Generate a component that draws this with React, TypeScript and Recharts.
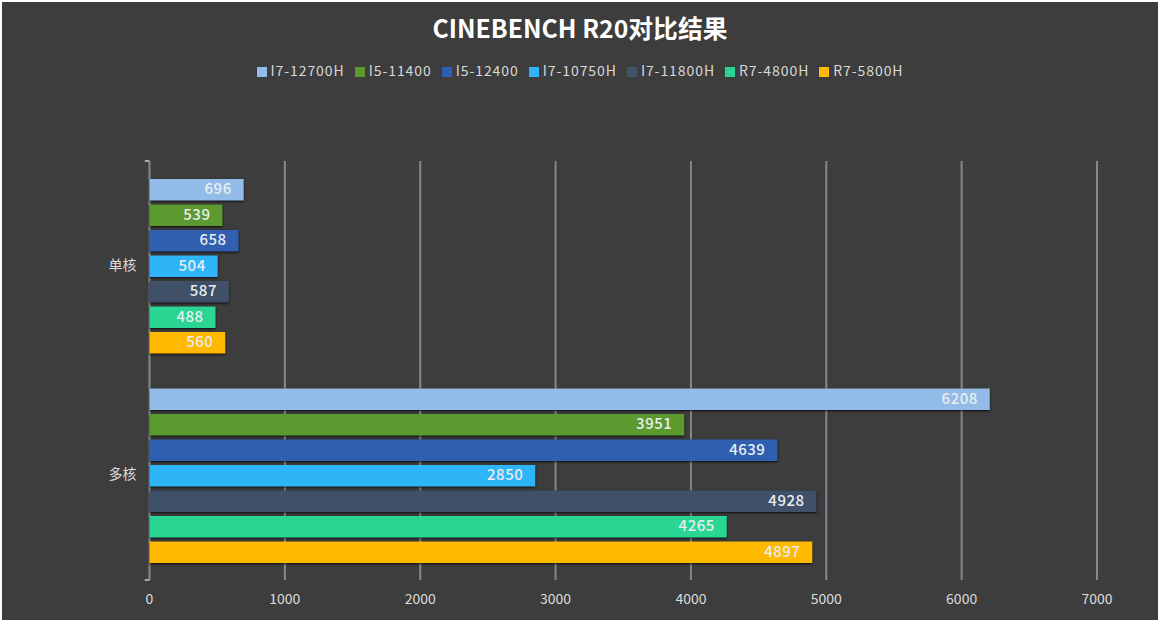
import { BarChart, Bar, XAxis, YAxis, CartesianGrid, Legend, LabelList, ReferenceLine } from "recharts";

const categories = ["单核", "多核"];
const seriesNames = ["I7-12700H", "I5-11400", "I5-12400", "I7-10750H", "I7-11800H", "R7-4800H", "R7-5800H"];
const seriesColors = ["#93bbe8", "#5c9a2f", "#2f5fae", "#2db5f8", "#3f5068", "#2bd695", "#ffb900"];
const singleCore = [696, 539, 658, 504, 587, 488, 560];
const multiCore = [6208, 3951, 4639, 2850, 4928, 4265, 4897];
const xTicks = [0, 1000, 2000, 3000, 4000, 5000, 6000, 7000];
const edgeTicks = [0, 1, 2];

const FONT = '"Noto Sans CJK SC", "Noto Sans", sans-serif';
const AXIS_COLOR = "#a8a8a8";

const data = categories.map((name, i) => {
  const row: Record<string, string | number> = { name };
  seriesNames.forEach((s, j) => {
    row[s] = (i === 0 ? singleCore : multiCore)[j];
  });
  return row;
});

export default function App() {
  return (
    <div style={{ position: "absolute", left: 0, top: 0, width: 1160, height: 632, background: "#fff", fontFamily: FONT }}>
      <div style={{ position: "absolute", left: 2, top: 2, width: 1156, height: 618, background: "#3d3d3d" }} />
      <div
        style={{
          position: "absolute",
          left: 0,
          top: 10,
          width: 1160,
          textAlign: "center",
          color: "#fff",
          fontSize: 24.8,
          fontWeight: 700,
          lineHeight: "34px",
        }}
      >
        CINEBENCH R20对比结果
      </div>
      <div style={{ position: "absolute", left: 0, top: 0 }}>
        <BarChart
          width={1160}
          height={632}
          data={data}
          layout="vertical"
          margin={{ top: 161, right: 63, left: 0, bottom: 22 }}
          barSize={21.5}
          barGap={4}
          barCategoryGap={17}
        >
          <CartesianGrid horizontal={false} vertical stroke="#85878a" strokeWidth={2} syncWithTicks />
          <XAxis
            type="number"
            domain={[0, 7000]}
            ticks={xTicks}
            axisLine={false}
            tickLine={false}
            height={30}
            tick={{ fontSize: 14, fill: "#dcdcdc" }}
            tickMargin={8}
          />
          <YAxis
            yAxisId="edge"
            type="number"
            domain={[0, 2]}
            ticks={edgeTicks}
            reversed
            width={0}
            tick={false}
            tickLine={false}
            axisLine={{ stroke: AXIS_COLOR, strokeWidth: 2 }}
          />
          <YAxis
            type="category"
            dataKey="name"
            width={149.5}
            axisLine={false}
            tickLine={false}
            tickMargin={7}
            tick={{ fontSize: 14, fill: "#dcdcdc", dy: -1 }}
          />
          {edgeTicks.map((t) => (
            <ReferenceLine
              key={t}
              yAxisId="edge"
              segment={[
                { x: -35, y: t },
                { x: 0, y: t },
              ]}
              ifOverflow="visible"
              stroke={AXIS_COLOR}
              strokeWidth={2}
            />
          ))}
          <Legend
            verticalAlign="middle"
            align="center"
            iconType="square"
            iconSize={10}
            itemSorter={null}
            wrapperStyle={{ top: 60, left: 5, width: 1160, textAlign: "center", fontSize: 14, letterSpacing: 0.93 }}
            formatter={(value) => <span style={{ color: "#d8d8d8" }}>{value}</span>}
          />
          {seriesNames.map((s, j) => (
            <Bar
              key={s}
              dataKey={s}
              fill={seriesColors[j]}
              isAnimationActive={false}
              style={{ filter: "drop-shadow(0 1px 1px rgba(0,0,0,0.8))" }}
            >
              <LabelList dataKey={s} position="insideRight" offset={12} dy={-1} fill="#e8eef0" fontSize={15} fontWeight={500} letterSpacing={0.5} />
            </Bar>
          ))}
        </BarChart>
      </div>
    </div>
  );
}
